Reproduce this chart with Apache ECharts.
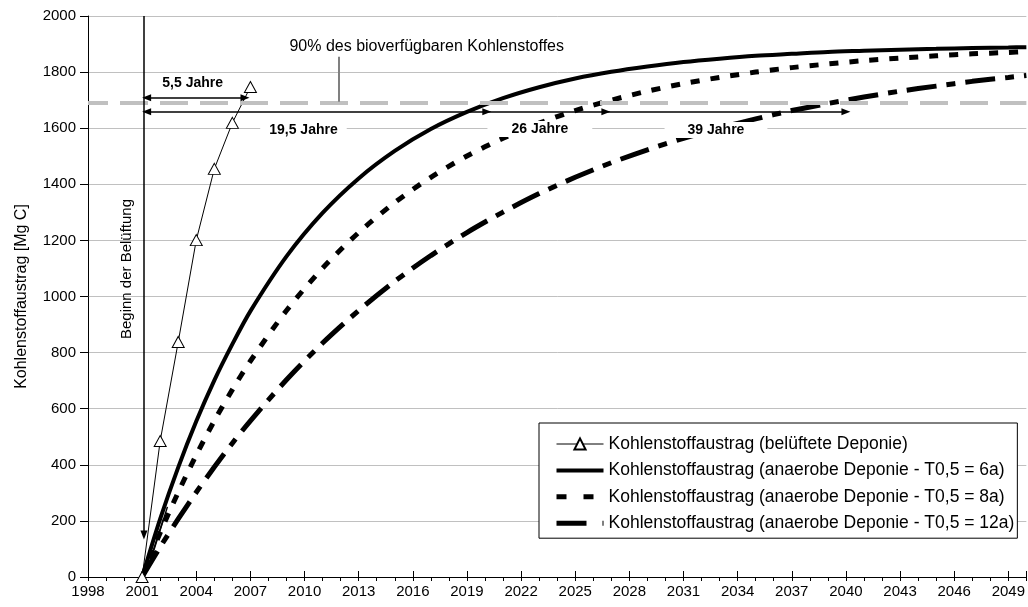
<!DOCTYPE html>
<html>
<head>
<meta charset="utf-8">
<script src="https://cdn.jsdelivr.net/npm/echarts@6/dist/echarts.min.js"></script>
<style>
html,body{margin:0;padding:0;background:#fff;}
#chart{width:1028px;height:607px;}
</style>
</head>
<body>
<div id="chart"></div>
<script>
// ---- data ----
const seriesNames = [
  'Kohlenstoffaustrag (belüftete Deponie)',
  'Kohlenstoffaustrag (anaerobe Deponie - T0,5 = 6a)',
  'Kohlenstoffaustrag (anaerobe Deponie - T0,5 = 8a)',
  'Kohlenstoffaustrag (anaerobe Deponie - T0,5 = 12a)'
];
const ventYears = [2001, 2002, 2003, 2004, 2005, 2006, 2007];
const ventValues = [0, 485, 838, 1201, 1455, 1619, 1747];

const anaYears = [2001, 2002, 2003, 2004, 2005, 2006, 2007, 2009, 2011, 2013, 2015, 2017, 2019, 2021, 2023,
  2025, 2027, 2029, 2031, 2033, 2035, 2037, 2039, 2041, 2043, 2045, 2047, 2049, 2050];
const anaT6 = [0, 207, 391, 555, 701, 830, 948, 1143, 1298, 1421, 1519, 1597, 1658, 1707, 1746,
  1777, 1801, 1820, 1836, 1848, 1858, 1865, 1872, 1876, 1880, 1883, 1886, 1888, 1889];
const anaT8 = [0, 158, 302, 435, 557, 668, 770, 950, 1101, 1228, 1335, 1425, 1501, 1564, 1618,
  1663, 1700, 1732, 1759, 1781, 1800, 1816, 1829, 1841, 1850, 1858, 1865, 1870, 1873];
const anaT12 = [0, 107, 207, 302, 392, 477, 557, 703, 834, 950, 1054, 1146, 1228, 1301, 1367,
  1425, 1477, 1523, 1564, 1601, 1633, 1663, 1688, 1711, 1732, 1750, 1767, 1781, 1788];

// reference level and annotations (data coordinates)
const level90 = 1690;
const startYear = 2001.1;
const arrow55 = [2001.25, 2006.7, 1709];
const arrowLong = [2001.25, 2020.1, 2026.7, 2040.0, 1659];
const durationLabels = [
  ['5,5 Jahre', 2003.8, 1762],
  ['19,5 Jahre', 2009.94, 1594],
  ['26 Jahre', 2023.04, 1597],
  ['39 Jahre', 2032.8, 1594]
];
const noteText = '90% des bioverfügbaren Kohlenstoffes';
const notePos = [2016.77, 1890];
const leader = [2011.9, 1694, 1855];
const beginText = 'Beginn der Belüftung';
const beginPos = [2000.13, 1098];

const xMin = 1998, xMax = 2050, xStep = 3;
const yMin = 0, yMax = 2000, yStep = 200;

// ---- build ----
const FONT = '"Liberation Sans", Arial, sans-serif';
const zip = (xs, ys) => xs.map((x, i) => [x, ys[i]]);

const labelPads = [[1, 4], [1, 9], [1, 24], [1, 23]];
const markPoints = durationLabels.map((d, i) => ({
  coord: [d[1], d[2]],
  label: {
    show: true, position: 'inside', formatter: d[0],
    fontFamily: FONT, fontSize: 14, fontWeight: 'bold', color: '#000',
    backgroundColor: i === 0 ? 'transparent' : '#fff', padding: labelPads[i]
  }
}));
markPoints.push({
  coord: notePos,
  label: { show: true, position: 'inside', formatter: noteText, fontFamily: FONT, fontSize: 16, color: '#000' }
});
markPoints.push({
  coord: beginPos,
  label: { show: true, position: 'inside', formatter: beginText, rotate: 90, fontFamily: FONT, fontSize: 15, color: '#000' }
});

const arrowStyle = { color: '#000', width: 1.5, type: 'solid' };
const markLines = [
  [{ coord: [startYear, yMax], symbol: 'none' }, { coord: [startYear, 150], symbol: 'triangle' }],
  [{ coord: [arrow55[0], arrow55[2]], symbol: 'triangle' }, { coord: [arrow55[1], arrow55[2]], symbol: 'triangle' }],
  [{ coord: [arrowLong[0], arrowLong[4]], symbol: 'triangle' }, { coord: [arrowLong[1], arrowLong[4]], symbol: 'triangle' }],
  [{ coord: [arrowLong[1], arrowLong[4]], symbol: 'none' }, { coord: [arrowLong[2], arrowLong[4]], symbol: 'triangle' }],
  [{ coord: [arrowLong[2], arrowLong[4]], symbol: 'none' }, { coord: [arrowLong[3], arrowLong[4]], symbol: 'triangle' }],
  [{ coord: [2002.4, 250], symbol: 'none' }, { coord: [2001.55, 75], symbol: 'triangle' }],
  [{ coord: [2002.2, 210], symbol: 'none' }, { coord: [2001.35, 42], symbol: 'triangle' }],
  [{ coord: [leader[0], leader[1]], symbol: 'none', lineStyle: { color: '#808080', width: 2 } },
   { coord: [leader[0], leader[2]], symbol: 'none' }]
];

const plainNum = v => String(Math.round(v));
const hiddenSym = { opacity: 0, borderWidth: 0 };

const option = {
  animation: false,
  backgroundColor: '#fff',
  textStyle: { fontFamily: FONT },
  grid: { left: 88, right: -5, top: 16, bottom: 30, containLabel: false },
  xAxis: [{
    type: 'value', min: xMin, max: xMax, interval: xStep,
    axisLine: { onZero: false, lineStyle: { color: '#000', width: 1 } },
    axisTick: { show: true, length: 4, lineStyle: { color: '#000' } },
    minorTick: { show: true, splitNumber: 3, length: 4, lineStyle: { color: '#000' } },
    axisLabel: { color: '#000', fontSize: 15, fontFamily: FONT, margin: 7, showMaxLabel: false, formatter: plainNum },
    splitLine: { show: false }
  }, {
    type: 'value', min: xMin, max: xMax, interval: xStep, position: 'bottom',
    axisLine: { show: false, onZero: false },
    axisTick: { show: true, inside: true, length: 6, lineStyle: { color: '#000' } },
    axisLabel: { show: false },
    splitLine: { show: false }
  }],
  yAxis: {
    type: 'value', min: yMin, max: yMax, interval: yStep,
    name: 'Kohlenstoffaustrag [Mg C]', nameLocation: 'middle', nameGap: 58, nameRotate: 90,
    nameTextStyle: { color: '#000', fontSize: 16, fontFamily: FONT },
    axisLine: { show: true, onZero: false, lineStyle: { color: '#000', width: 1 } },
    axisTick: { show: true, length: 8, lineStyle: { color: '#000' } },
    axisLabel: { color: '#000', fontSize: 15, fontFamily: FONT, margin: 12, formatter: plainNum },
    splitLine: { show: true, lineStyle: { color: '#c0c0c0', width: 1 } }
  },
  legend: {
    orient: 'vertical', left: 539, top: 423, selectedMode: false,
    backgroundColor: '#fff', borderColor: '#000', borderWidth: 1, borderRadius: 0,
    padding: [12, 3, 6, 15], itemWidth: 47, itemHeight: 14, itemGap: 8.4,
    textStyle: { color: '#000', fontSize: 17.5, fontFamily: FONT, lineHeight: 17 },
    data: [
      { name: seriesNames[0], lineStyle: { width: 1, color: '#000' } },
      { name: seriesNames[1], itemStyle: hiddenSym, lineStyle: { width: 4 } },
      { name: seriesNames[2], itemStyle: hiddenSym, lineStyle: { width: 5, type: [10, 17] } },
      { name: seriesNames[3], itemStyle: hiddenSym, lineStyle: { width: 5, type: [30, 16, 2, 10] } }
    ]
  },
  series: [
    {
      name: 'helper', type: 'line', data: [], z: 1, silent: true,
      markLine: {
        silent: true, symbol: 'none', label: { show: false },
        lineStyle: { color: '#c0c0c0', width: 4, type: [28, 12], dashOffset: 8 },
        data: [{ yAxis: level90 }]
      }
    },
    {
      name: seriesNames[0], type: 'line', data: zip(ventYears, ventValues), z: 3,
      symbol: 'triangle', symbolSize: [12, 11], showSymbol: true,
      lineStyle: { color: '#000', width: 1 },
      itemStyle: { color: '#fff', borderColor: '#000', borderWidth: 1 }
    },
    {
      name: seriesNames[1], type: 'line', data: zip(anaYears, anaT6), z: 2,
      symbol: 'none', smooth: 0.3,
      lineStyle: { color: '#000', width: 4 }, itemStyle: { color: '#000' }
    },
    {
      name: seriesNames[2], type: 'line', data: zip(anaYears, anaT8), z: 2,
      symbol: 'none', smooth: 0.3,
      lineStyle: { color: '#000', width: 5, type: [9, 11], cap: 'butt' }, itemStyle: { color: '#000' }
    },
    {
      name: seriesNames[3], type: 'line', data: zip(anaYears, anaT12), z: 2,
      symbol: 'none', smooth: 0.3,
      lineStyle: { color: '#000', width: 5, type: [30, 10, 9, 10], cap: 'butt' }, itemStyle: { color: '#000' }
    },
    {
      name: 'annotations', type: 'line', data: [], z: 10, silent: true,
      markLine: {
        silent: true, symbolSize: [7, 9], label: { show: false },
        lineStyle: arrowStyle, data: markLines
      },
      markPoint: {
        silent: true, symbol: 'circle', symbolSize: 0, data: markPoints
      }
    }
  ]
};

const chart = echarts.init(document.getElementById('chart'), null, { renderer: 'canvas' });
chart.setOption(option);
</script>
</body>
</html>
